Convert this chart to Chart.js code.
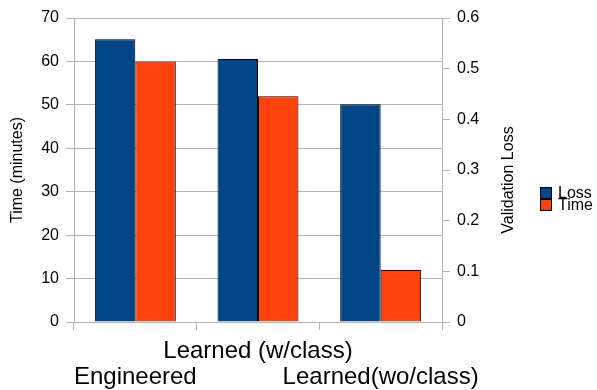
<!DOCTYPE html>
<html>
<head>
<meta charset="utf-8">
<script src="https://cdn.jsdelivr.net/npm/chart.js@4.4.1/dist/chart.umd.min.js"></script>
<style>
  html, body { margin: 0; padding: 0; background: #fff; }
  #wrap { width: 597px; height: 390px; }
</style>
</head>
<body>
<div id="wrap"><canvas id="c" width="597" height="390"></canvas></div>
<script>
// Category labels, staggered over two rows so the long names do not collide
const categories = [["", "Engineered"], ["Learned (w/class)", ""], ["", "Learned(wo/class)"]];
// Validation loss (right axis) and training time in minutes (left axis)
const lossValues = [0.558, 0.519, 0.430];
const timeValues = [60, 52, 12];
const seriesNames = ["Loss", "Time"];
const seriesColors = ["#004586", "#ff420e"];

const FONT = "'Liberation Sans', Arial, sans-serif";
const GRID = "#b3b3b3";

// Draws the rotated right-axis title and the small legend box
const extras = {
  id: "extras",
  afterDraw(chart) {
    const ctx = chart.ctx;
    ctx.save();
    ctx.fillStyle = "#000";
    ctx.font = "16px " + FONT;
    ctx.textAlign = "center";
    ctx.textBaseline = "middle";
    ctx.translate(509, 180);
    ctx.rotate(-Math.PI / 2);
    ctx.fillText(chart.options.scales.y1.title.text, 0, 0);
    ctx.restore();

    ctx.save();
    ctx.font = "16px " + FONT;
    ctx.textBaseline = "middle";
    chart.data.datasets.forEach((ds, i) => {
      const y = 187 + i * 12;
      ctx.fillStyle = ds.backgroundColor;
      ctx.fillRect(540.5, y + 0.5, 11, 11);
      ctx.strokeStyle = "#000";
      ctx.lineWidth = 1;
      ctx.strokeRect(540.5, y + 0.5, 11, 11);
      ctx.fillStyle = "#000";
      ctx.fillText(ds.label, 558, y + 6.5);
    });
    ctx.restore();
  }
};

new Chart(document.getElementById("c"), {
  type: "bar",
  data: {
    labels: categories,
    datasets: [
      { label: seriesNames[0], data: lossValues, yAxisID: "y1",
        backgroundColor: seriesColors[0], borderColor: "#000", borderWidth: 1 },
      { label: seriesNames[1], data: timeValues, yAxisID: "y",
        backgroundColor: seriesColors[1], borderColor: "#000", borderWidth: 1 }
    ]
  },
  options: {
    responsive: false,
    animation: false,
    devicePixelRatio: 1,
    layout: { padding: { top: 18, right: 77, bottom: 0, left: 0 } },
    datasets: { bar: { categoryPercentage: 0.66, barPercentage: 1.0 } },
    plugins: { legend: { display: false }, tooltip: { enabled: false } },
    scales: {
      x: {
        offset: true,
        grid: { offset: true, drawOnChartArea: false, color: GRID, tickLength: 8 },
        border: { color: GRID },
        ticks: { color: "#000", font: { family: FONT, size: 24, lineHeight: 1.08 },
                 padding: 8, maxRotation: 0, autoSkip: false },
        afterFit(s) { s.height = 68; }
      },
      y: {
        position: "left",
        min: 0, max: 70,
        ticks: { stepSize: 10, color: "#000", font: { family: FONT, size: 16 }, padding: 7 },
        grid: { color: GRID, tickLength: 8 },
        border: { color: GRID },
        title: { display: true, text: "Time (minutes)", color: "#000",
                 font: { family: FONT, size: 16 }, padding: { top: 8, bottom: 0 } },
        afterFit(s) { s.width = 74; }
      },
      y1: {
        position: "right",
        min: 0, max: 0.6,
        ticks: { stepSize: 0.1, color: "#000", font: { family: FONT, size: 16 }, padding: 7 },
        grid: { drawOnChartArea: false, color: GRID, tickLength: 8 },
        border: { color: GRID },
        title: { display: false, text: "Validation Loss" },
        afterFit(s) { s.width = 78; }
      }
    }
  },
  plugins: [extras]
});
</script>
</body>
</html>
